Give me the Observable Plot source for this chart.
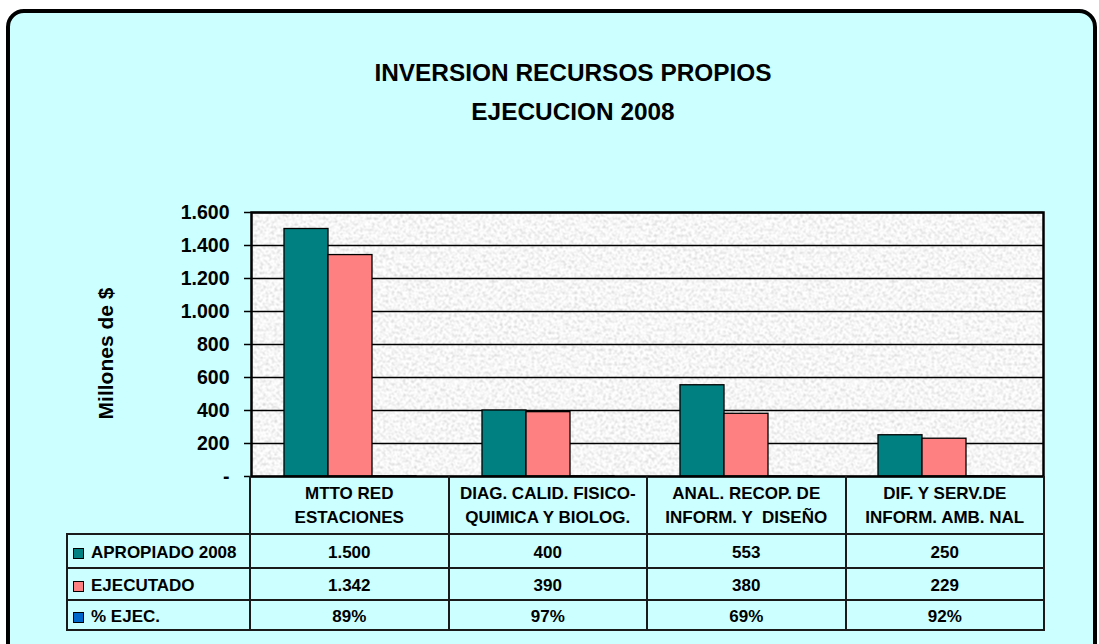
<!DOCTYPE html>
<html><head><meta charset="utf-8">
<script src="https://cdn.jsdelivr.net/npm/d3@7"></script>
<script src="https://cdn.jsdelivr.net/npm/@observablehq/plot@0.6"></script>
<style>
body{margin:0;background:#fff;}
#wrap{position:relative;width:1099px;height:644px;overflow:hidden;font-family:"Liberation Sans",Arial,sans-serif;font-weight:bold;color:#000;}
#box{position:absolute;left:6px;top:9px;width:1083px;height:700px;border:4px solid #000;border-radius:18px;background:#CCFFFF;}
.title{position:absolute;left:273px;width:600px;text-align:center;font-size:24.4px;line-height:24px;white-space:nowrap;}
#chart{position:absolute;left:0;top:0;}
.hl{position:absolute;height:2px;background:#1a1a1a;}
.vl{position:absolute;width:2px;background:#1a1a1a;}
.cell{position:absolute;display:flex;align-items:center;justify-content:center;font-size:17px;white-space:pre;text-align:center;}
.rlab{position:absolute;display:flex;align-items:center;font-size:17px;white-space:pre;}
.sw{display:inline-block;width:9px;height:9px;border:1px solid #000;margin-left:6px;margin-right:7px;}
</style>
</head>
<body>
<div id="wrap">
  <div id="box"></div>
  <div class="title" style="top:61px">INVERSION RECURSOS PROPIOS</div>
  <div class="title" style="top:100px">EJECUCION 2008</div>
</div>
<script>
// ---- data ----
const categories = ["MTTO RED\nESTACIONES", "DIAG. CALID. FISICO-\nQUIMICA Y BIOLOG.", "ANAL. RECOP. DE\nINFORM. Y  DISEÑO", "DIF. Y SERV.DE\nINFORM. AMB. NAL"];
const series = ["APROPIADO 2008", "EJECUTADO", "% EJEC."];
const apropiado = [1500, 400, 553, 250];
const ejecutado = [1342, 390, 380, 229];
const pctEjec = [0.89, 0.97, 0.69, 0.92];
const yTicks = [0, 200, 400, 600, 800, 1000, 1200, 1400, 1600];
const colors = ["#008080", "#FF8080", "#0066CC"];
const yLabel = "Millones de $";

const fmt = d3.formatLocale({decimal: ",", thousands: ".", grouping: [3], currency: ["$", ""]}).format(",");
const pfmt = d3.format(".0%");

const rows = categories.flatMap((c, i) => [
  {c, s: series[0], v: apropiado[i]},
  {c, s: series[1], v: ejecutado[i]},
  {c, s: series[2], v: pctEjec[i]}
]);

const W = 1099, H = 644, mL = 250, mR = 55, mT = 212, mB = 168;

const chart = Plot.plot({
  width: W, height: H,
  marginLeft: mL, marginRight: mR, marginTop: mT, marginBottom: mB,
  style: {background: "none", color: "#000", fontFamily: "'Liberation Sans', Arial, sans-serif", fontWeight: "bold", overflow: "visible"},
  fx: {domain: categories, padding: 0, axis: null},
  x: {domain: series, paddingInner: 0, paddingOuter: 0.75, axis: null},
  y: {domain: [0, 1600], axis: null},
  color: {domain: series, range: colors},
  marks: [
    Plot.frame({facet: "super", fill: "url(#granite)", stroke: "none"}),
    Plot.gridY(yTicks, {stroke: "#000", strokeOpacity: 1, strokeWidth: 1.4}),
    Plot.barY(rows, {fx: "c", x: "s", y: "v", fill: "s", stroke: "#000", strokeWidth: 1.3}),
    Plot.frame({facet: "super", stroke: "#000", strokeWidth: 2.5}),
    Plot.axisY(yTicks, {tickSize: 7, tickPadding: 15, tickFormat: d => d === 0 ? "-" : fmt(d), fontSize: 19.5, fontWeight: "bold", label: null, strokeWidth: 1.5}),
    Plot.text([yLabel], {facet: "super", frameAnchor: "left", textAnchor: "middle", dx: -145, dy: 9, rotate: -90, fontSize: 21, fontWeight: "bold"})
  ]
});
chart.id = "chart";
d3.select(chart).insert("defs", ":first-child").html(`
<filter id="noiseF" x="0" y="0" width="100%" height="100%">
  <feTurbulence type="fractalNoise" baseFrequency="0.35" numOctaves="2" seed="7" stitchTiles="stitch" result="n"/>
  <feColorMatrix in="n" type="matrix" values="0.75 0 0 0 0.55  0.75 0 0 0 0.55  0.75 0 0 0 0.55  0 0 0 0 1"/>
</filter>
<pattern id="granite" patternUnits="userSpaceOnUse" width="400" height="300">
  <rect width="400" height="300" fill="#eaeaea" filter="url(#noiseF)"/>
</pattern>`);
const wrap = document.getElementById("wrap");
wrap.appendChild(chart);

// ---- data table below the chart ----
const x0 = 67, fL = mL, fR = W - mR, colW = (fR - fL) / categories.length;
const rowY = [H - mB, 534, 568, 600, 630];
const add = (cls, css, txt) => { const d = document.createElement("div"); d.className = cls; Object.assign(d.style, css); if (txt != null) d.textContent = txt; wrap.appendChild(d); return d; };

// category header
categories.forEach((c, i) => add("cell", {left: (fL + i * colW) + "px", top: rowY[0] + "px", width: colW + "px", height: (rowY[1] - rowY[0]) + "px", lineHeight: "24px", paddingTop: "1px"}, c));
// data rows
const tableVals = [apropiado.map(fmt), ejecutado.map(fmt), pctEjec.map(pfmt)];
series.forEach((s, r) => {
  const top = rowY[r + 1], h = rowY[r + 2] - rowY[r + 1];
  const lab = add("rlab", {left: x0 + "px", top: (top + 2) + "px", width: (fL - x0) + "px", height: h + "px"});
  const sw = document.createElement("span"); sw.className = "sw"; sw.style.background = colors[r]; lab.appendChild(sw);
  lab.appendChild(document.createTextNode(s));
  tableVals[r].forEach((v, i) => add("cell", {left: (fL + i * colW) + "px", top: (top + 2) + "px", width: colW + "px", height: h + "px"}, v));
});
// grid lines of the table
for (let k = 1; k < rowY.length; k++) add("hl", {left: x0 + "px", top: (rowY[k] - 1) + "px", width: (fR - x0 + 1) + "px"});
add("vl", {left: (x0 - 1) + "px", top: (rowY[1] - 1) + "px", height: (rowY[4] - rowY[1] + 2) + "px"});
for (let i = 0; i <= categories.length; i++) add("vl", {left: (fL + i * colW - 1) + "px", top: rowY[0] + "px", height: (rowY[4] - rowY[0] + 1) + "px"});
</script>
</body></html>
